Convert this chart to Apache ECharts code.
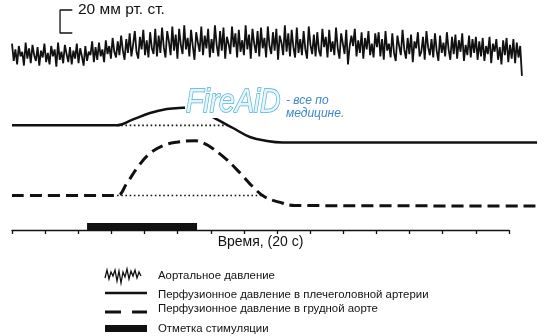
<!DOCTYPE html>
<html><head><meta charset="utf-8">
<script src="https://cdn.jsdelivr.net/npm/echarts@6/dist/echarts.min.js"></script>
<style>html,body{margin:0;padding:0;background:#fff}#c{width:550px;height:336px}</style>
</head><body><div id="c"></div>
<script>
// ---- time axis (seconds; one tick = 20 s) ----
const timeMin = 0;
const timeMax = 300;
const timeTickStep = 20;
const traceTimeMax = 320;          // recordings run a little past the last tick
const timeAxisTitle = 'Время, (20 с)';

// ---- aortic pressure (mm Hg), uniformly sampled between aorticStart and aorticEnd ----
const aorticStart = 0;
const aorticEnd = 307.8;
const aorticPressure = [
  // baseline
  106, 91, 101, 88, 104, 95, 99, 87, 107, 93, 102, 89, 105, 96, 91, 103, 87, 100, 94, 106,
  90, 98, 88, 104, 95, 101, 86, 107, 92, 99, 89, 105, 97, 90, 103, 88, 100, 93, 106, 89,
  102, 95, 87, 104, 91, 99, 96, 108, 90,
  // rise
  103, 92, 107, 95, 101, 90, 109, 97, 104, 93, 111, 99, 94, 108, 96, 113, 100, 92, 110, 98,
  115, 95, 105, 117, 99, 93, 112, 101, 118, 96, 109, 94, 116, 102, 97, 119, 95, 113,
  // elevated plateau
  98, 120, 103, 94, 117, 108, 96, 121, 100, 114, 93, 119, 105, 97, 122, 101, 111, 95, 118, 104,
  92, 116, 107, 99, 121, 96, 113, 102, 119, 94, 110, 98, 122, 105, 95, 117, 100, 120, 93, 112,
  106, 97, 121, 103, 115, 94, 118, 99, 109, 96, 122, 101, 114, 93, 119, 106, 98, 117, 95, 120,
  102, 111, 94, 121, 104, 97, 116, 100, 119, 92, 113, 107, 96, 122, 99, 115, 95, 118, 103, 94,
  120, 98, 110, 96, 117, 101, 93, 121, 105, 97, 114, 95, 116, 100, 95, 119, 103, 112, 94, 118,
  99, 108, 96, 120, 102, 93, 115, 106, 97, 118, 88, 104, 113, 104, 119, 95, 109, 98, 116, 93,
  111, 101, 117, 96, 106, 94, 115,
  // slight decline
  103, 116, 95, 110, 92, 117, 100, 106, 94, 115, 98, 91, 113, 104, 96, 118, 101, 93, 111, 97,
  114, 90, 108, 102, 116, 95, 99, 112, 92, 117, 103, 96, 110, 94, 115, 100, 91, 113, 98, 107,
  95, 116, 101, 92, 112, 97, 114, 93, 109, 99, 115, 91, 105, 96, 113, 94, 110, 98, 112, 92,
  // end of record
  108, 95, 111, 91, 104, 97, 112, 89, 106, 99, 110, 92, 103, 88, 109, 96, 111, 90, 105, 93,
  110, 89, 107, 94, 104, 78
];

// ---- perfusion pressure in brachiocephalic artery (solid) ----
const brachioTimes    = [0, 50, 63.4, 72.4, 83.3, 93.5, 103.2, 110, 117, 124.3, 133.4, 143.6, 153.9, 163.5, 316.9];
const brachioPressure = [100, 100, 100, 104.7, 110.7, 114.2, 115.3, 115.5, 110.7, 104.7, 97.7, 89.9, 86.4, 85.1, 85.1];
const brachioBaselineTimes = [63.4, 129.8];
const brachioBaselineValue = 100;

// ---- perfusion pressure in thoracic aorta (dashed) ----
const thoracicTimes    = [0, 50, 63.4, 69.4, 75.5, 82.1, 90.5, 100.2, 110.5, 115.3, 120.7, 129.8, 138.8, 145.5, 152.7, 163, 170.8, 316.9];
const thoracicPressure = [100, 100, 100, 110.9, 123.9, 135.2, 143, 146.5, 147.7, 145.7, 141.3, 130.9, 117.8, 107.4, 98.7, 93.5, 91.3, 90.9];
const thoracicBaselineTimes = [63.4, 151.5];
const thoracicBaselineValue = 100;

// ---- stimulation mark (start, end in s) ----
const stimulation = [45.3, 111.7];

// ---- calibration bar: 20 mm Hg ----
const scaleBarMmHg = 20;
const scaleBarBase = 115.3;
const scaleBarTimes = [29, 36.4];
const scaleBarLabel = '20 мм рт. ст.';

// ---- legend ----
const legendLabels = [
  'Аортальное давление',
  'Перфузионное давление в плечеголовной артерии',
  'Перфузионное давление в грудной аорте',
  'Отметка стимуляции'
];

// ---------------------------------------------------------------
const aorticData = aorticPressure.map((v, i) => [
  aorticStart + i * (aorticEnd - aorticStart) / (aorticPressure.length - 1), v
]);
const zip = (ts, vs) => ts.map((t, i) => [t, vs[i]]);
const FONT = '"Liberation Sans", Arial, sans-serif';
const INK = '#111';
const LEFT = 12, PX_PER_S = 497 / (timeMax - timeMin);

const chart = echarts.init(document.getElementById('c'), null, {renderer: 'canvas'});
chart.setOption({
  animation: false,
  backgroundColor: '#fff',
  grid: [
    {left: LEFT, width: PX_PER_S * traceTimeMax, top: 0, height: 230, containLabel: false},
    {left: LEFT, width: PX_PER_S * (timeMax - timeMin), top: 0, height: 230, containLabel: false}
  ],
  xAxis: [
    {gridIndex: 0, type: 'value', min: timeMin, max: traceTimeMax, show: false,
     axisLine: {onZero: false}, splitLine: {show: false}},
    {gridIndex: 1, type: 'value', min: timeMin, max: timeMax, interval: timeTickStep,
     axisLine: {show: true, onZero: false, lineStyle: {color: INK, width: 1.3}},
     axisTick: {show: true, length: 4, lineStyle: {color: INK, width: 1.3}},
     axisLabel: {show: false}, splitLine: {show: false},
     name: timeAxisTitle, nameLocation: 'middle', nameGap: 5,
     nameTextStyle: {color: INK, fontSize: 14, fontFamily: FONT, verticalAlign: 'top'}}
  ],
  yAxis: [
    {gridIndex: 0, type: 'value', min: -56, max: 144, show: false, splitLine: {show: false}},
    {gridIndex: 0, type: 'value', min: 9, max: 209, show: false, splitLine: {show: false}},
    {gridIndex: 0, type: 'value', min: 70, max: 270, show: false, splitLine: {show: false}},
    {gridIndex: 1, type: 'value', min: 0, max: 1, show: false, splitLine: {show: false}}
  ],
  series: [
    {name: legendLabels[0], type: 'line', xAxisIndex: 0, yAxisIndex: 0, data: aorticData, showSymbol: false, clip: false,
     lineStyle: {color: INK, width: 1.8, join: 'miter', miterLimit: 3}},
    {name: 'scale', type: 'line', xAxisIndex: 0, yAxisIndex: 0, showSymbol: false, clip: false,
     data: [[scaleBarTimes[1], scaleBarBase + scaleBarMmHg], [scaleBarTimes[0], scaleBarBase + scaleBarMmHg],
            [scaleBarTimes[0], scaleBarBase], [scaleBarTimes[1], scaleBarBase]],
     lineStyle: {color: INK, width: 1.3}},
    {name: legendLabels[1], type: 'line', xAxisIndex: 0, yAxisIndex: 1, data: zip(brachioTimes, brachioPressure),
     showSymbol: false, clip: false, smooth: 0.4,
     lineStyle: {color: INK, width: 2.5}},
    {name: 'b-base', type: 'line', xAxisIndex: 0, yAxisIndex: 1, showSymbol: false,
     data: brachioBaselineTimes.map(t => [t, brachioBaselineValue]),
     lineStyle: {color: INK, width: 1.6, type: [1.6, 2.6]}},
    {name: legendLabels[2], type: 'line', xAxisIndex: 0, yAxisIndex: 2, data: zip(thoracicTimes, thoracicPressure),
     showSymbol: false, clip: false, smooth: 0.4,
     lineStyle: {color: INK, width: 3, type: [12, 6]}},
    {name: 't-base', type: 'line', xAxisIndex: 0, yAxisIndex: 2, showSymbol: false,
     data: thoracicBaselineTimes.map(t => [t, thoracicBaselineValue]),
     lineStyle: {color: INK, width: 1.6, type: [1.6, 2.6]}},
    {name: legendLabels[3], type: 'custom', xAxisIndex: 1, yAxisIndex: 3, data: [stimulation], clip: false,
     renderItem: (params, api) => {
       const p0 = api.coord([api.value(0), 0]);
       const p1 = api.coord([api.value(1), 0]);
       return {type: 'rect', shape: {x: p0[0], y: p0[1] - 7, width: p1[0] - p0[0], height: 7},
               style: {fill: INK}};
     }}
  ],
  graphic: [
    {type: 'text', left: 78, top: 2, style: {text: scaleBarLabel, font: '15.5px ' + FONT, fill: INK}},
    // watermark
    {type: 'rect', shape: {x: 185, y: 98, width: 32, height: 20}, style: {fill: '#fff'}, z: 50},
    {type: 'text', x: 186, y: 103, scaleX: 0.86, z: 51, style: {text: 'FireAiD', font: 'italic 33px ' + FONT,
      fill: '#e4f6fb', stroke: '#4fb0d4', lineWidth: 1.5, verticalAlign: 'middle'}},
    {type: 'text', x: 286, y: 101, z: 52, style: {text: '- все по', font: 'italic 12px ' + FONT,
      fill: '#3c86c9', verticalAlign: 'middle'}},
    {type: 'text', x: 286, y: 114, z: 52, style: {text: 'медицине.', font: 'italic 12px ' + FONT,
      fill: '#3c86c9', verticalAlign: 'middle'}},
    // legend icons
    {type: 'polyline', shape: {points: [[105,278],[107,270],[109,279],[111,272],[113,276],[115,270],[117,281],[119,271],[121,283],[123,272],[125,277],[127,269],[129,279],[131,271],[133,276],[135,270],[137,278],[139,272],[141,276]]},
     style: {stroke: INK, lineWidth: 1.3, fill: null}},
    {type: 'line', shape: {x1: 105, y1: 293, x2: 147, y2: 293}, style: {stroke: INK, lineWidth: 2.5}},
    {type: 'line', shape: {x1: 105, y1: 312, x2: 121, y2: 312}, style: {stroke: INK, lineWidth: 3}},
    {type: 'line', shape: {x1: 132, y1: 312, x2: 147, y2: 312}, style: {stroke: INK, lineWidth: 3}},
    {type: 'rect', shape: {x: 105, y: 325, width: 42, height: 7}, style: {fill: INK}},
    // legend texts
    {type: 'text', x: 158, y: 275.5, style: {text: legendLabels[0], font: '11.4px ' + FONT, fill: INK, verticalAlign: 'middle'}},
    {type: 'text', x: 158, y: 294.5, style: {text: legendLabels[1], font: '11.4px ' + FONT, fill: INK, verticalAlign: 'middle'}},
    {type: 'text', x: 158, y: 308.5, style: {text: legendLabels[2], font: '11.4px ' + FONT, fill: INK, verticalAlign: 'middle'}},
    {type: 'text', x: 158, y: 329, style: {text: legendLabels[3], font: '11.4px ' + FONT, fill: INK, verticalAlign: 'middle'}}
  ]
});
</script>
</body></html>
